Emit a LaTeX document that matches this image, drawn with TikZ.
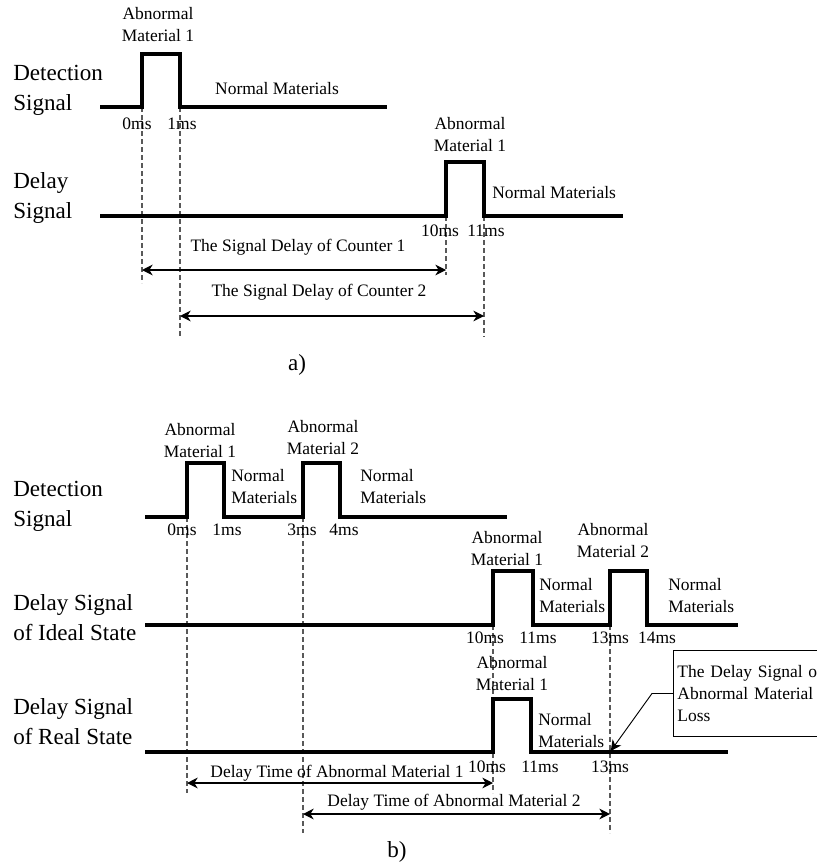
\documentclass[tikz,border=0pt]{standalone}
\usepackage{fontspec}
\setmainfont{Liberation Serif}
\usetikzlibrary{arrows.meta}

\begin{document}
\begin{tikzpicture}[x=0.75pt,y=-0.75pt,
  >={Stealth[length=8pt,width=8pt,inset=2.5pt]},
  sig/.style={line width=3pt,line join=miter},
  guide/.style={line width=0.8pt,black!65,dash pattern=on 3.5pt off 2.5pt},
  span/.style={<->,line width=0.9pt},
  txt/.style={font=\fontsize{13.1}{16.5}\selectfont,align=center,inner sep=0pt},
  nm/.style={txt,align=left,anchor=west},
  side/.style={font=\fontsize{17.3}{22.5}\selectfont,align=left,anchor=west,inner sep=0pt},
  subcap/.style={font=\fontsize{17.3}{22.5}\selectfont,inner sep=0pt},
  lossbox/.style={txt,draw,line width=0.7pt,align=left,anchor=north west,inner xsep=3pt,
    text width=150pt,minimum height=64.5pt}]
  \clip (0,0) rectangle (817,867);

  % a) one material
  \coordinate (a0) at (142,107); \coordinate (a1) at (180,107);
  \coordinate (a10) at (446,216); \coordinate (a11) at (484,216);
  \draw[guide] (a0) -- ++(0,176);
  \draw[guide] (a1) -- ++(0,230);
  \draw[guide] (a10) -- ++(0,59);
  \draw[guide] (a11) -- ++(0,121);
  \draw[sig] (100,107) -- (a0) -- ++(0,-53) -| (a1) -- (387,107);
  \draw[sig] (100,216) -- (a10) -- ++(0,-54) -| (a11) -- (623,216);
  \node[side] (detA) at (13,90) {Detection\\Signal};
  \node[side] (dlyA) at (13,198) {Delay\\Signal};
  \node[txt] (abA) at (158,25) {Abnormal\\Material 1};
  \node[txt] (nmA) at (277,89) {Normal Materials};
  \node[txt] (t0A) at (137,124) {0ms}; \node[txt] (t1A) at (182,124) {1ms};
  \node[txt] (abAd) at (470,135) {Abnormal\\Material 1};
  \node[nm] (nmAd) at (492,193) {Normal Materials};
  \node[txt] (t10A) at (440,231) {10ms}; \node[txt] (t11A) at (486,231) {11ms};
  \draw[span] (a0 |- 0,270) -- (a10 |- 0,270);
  \draw[span] (a1 |- 0,316) -- (a11 |- 0,316);
  \node[txt] (c1) at (298,247) {The Signal Delay of Counter 1};
  \node[txt] (c2) at (319,292) {The Signal Delay of Counter 2};
  \node[subcap] (capA) at (297,365) {a)};

  % b) two materials
  \coordinate (b0) at (187,517); \coordinate (b1) at (224,517);
  \coordinate (b3) at (303,517); \coordinate (b4) at (340,517);
  \coordinate (i10) at (493,625); \coordinate (i11) at (533,625);
  \coordinate (i13) at (610,625); \coordinate (i14) at (647,625);
  \coordinate (r10) at (493,752); \coordinate (r11) at (531,752);
  \coordinate (loss) at (610,752);
  \draw[guide] (b0) -- ++(0,276);
  \draw[guide] (b3) -- ++(0,316);
  \draw[guide] (i10) -- ++(0,168);
  \draw[guide] (i13) -- ++(0,208);
  \draw[sig] (145,517) -- (b0) -- ++(0,-54) -| (b1) -- (b3) -- ++(0,-54) -| (b4) -- (507,517);
  \draw[sig] (145,625) -- (i10) -- ++(0,-54) -| (i11) -- (i13) -- ++(0,-54) -| (i14) -- (738,625);
  \draw[sig] (145,752) -- (r10) -- ++(0,-53) -| (r11) -- (728,752);
  \fill (loss) circle (2.3);

  \node[side] (detB) at (13,506) {Detection\\Signal};
  \node[side] (ideal) at (13,618) {Delay Signal\\of Ideal State};
  \node[side] (real) at (13,722) {Delay Signal\\of Real State};

  \node[txt] (ab1B) at (200,441) {Abnormal\\Material 1};
  \node[txt] (ab2B) at (323,438) {Abnormal\\Material 2};
  \node[nm] (nm1B) at (231,487) {Normal\\Materials};
  \node[nm] (nm2B) at (360,487) {Normal\\Materials};
  \node[txt] (t0B) at (182,530) {0ms}; \node[txt] (t1B) at (227,530) {1ms};
  \node[txt] (t3B) at (302,530) {3ms}; \node[txt] (t4B) at (344,530) {4ms};

  \node[txt] (ab1I) at (507,549) {Abnormal\\Material 1};
  \node[txt] (ab2I) at (613,541) {Abnormal\\Material 2};
  \node[nm] (nm1I) at (539,596) {Normal\\Materials};
  \node[nm] (nm2I) at (668,596) {Normal\\Materials};
  \node[txt] (t10I) at (485,638) {10ms}; \node[txt] (t11I) at (538,638) {11ms};
  \node[txt] (t13I) at (610,638) {13ms}; \node[txt] (t14I) at (657,638) {14ms};

  \node[txt] (ab1R) at (512,674) {Abnormal\\Material 1};
  \node[nm] (nm1R) at (538,731) {Normal\\Materials};
  \node[txt] (t10R) at (487,767) {10ms}; \node[txt] (t11R) at (540,767) {11ms};
  \node[txt] (t13R) at (610,767) {13ms};

  \node[lossbox] (lossB) at (673,650) {The Delay Signal of\\Abnormal Material 2\\Loss};
  \draw[->,line width=0.7pt,shorten >=1pt] (lossB.west) -- ++(-21,0) -- (loss);

  \draw[span] (b0 |- 0,783) -- (i10 |- 0,783);
  \draw[span] (b3 |- 0,814) -- (i13 |- 0,814);
  \node[txt] (d1) at (337,773) {Delay Time of Abnormal Material 1};
  \node[txt] (d2) at (454,802) {Delay Time of Abnormal Material 2};
  \node[subcap] (capB) at (397,852) {b)};
\end{tikzpicture}
\end{document}
